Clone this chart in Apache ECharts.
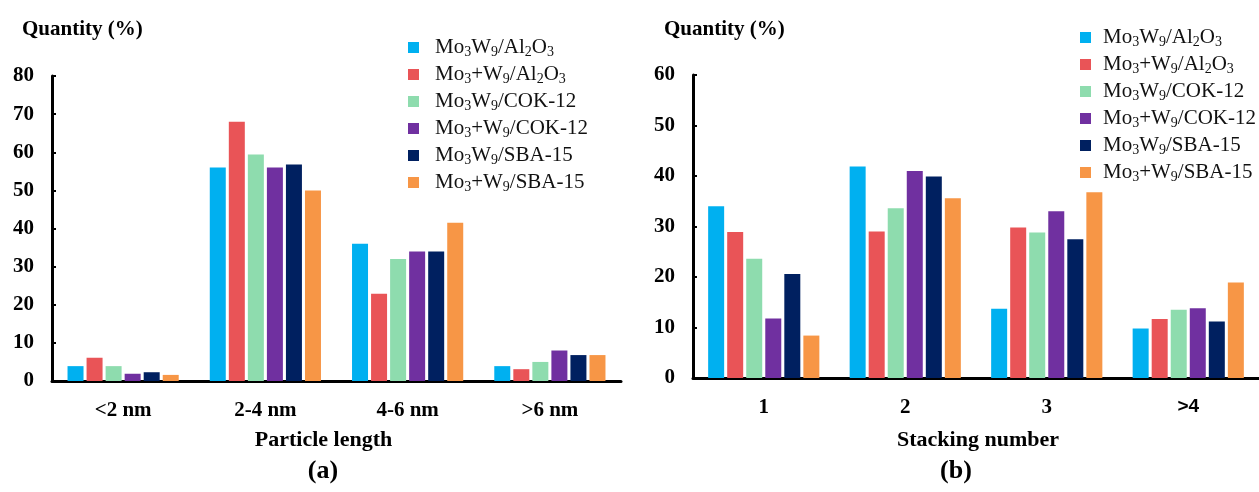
<!DOCTYPE html>
<html>
<head>
<meta charset="utf-8">
<script src="https://cdn.jsdelivr.net/npm/echarts@6/dist/echarts.min.js"></script>
<style>
html,body{margin:0;padding:0;background:#fff;}
#chart{width:1259px;height:492px;}
</style>
</head>
<body>
<div id="chart"></div>
<script>
// ---- data ----
const seriesNames = ['Mo3W9/Al2O3', 'Mo3+W9/Al2O3', 'Mo3W9/COK-12', 'Mo3+W9/COK-12', 'Mo3W9/SBA-15', 'Mo3+W9/SBA-15'];
const legendLabels = [
  'Mo{s|3}W{s|9}/Al{s|2}O{s|3}',
  'Mo{s|3}+W{s|9}/Al{s|2}O{s|3}',
  'Mo{s|3}W{s|9}/COK-12',
  'Mo{s|3}+W{s|9}/COK-12',
  'Mo{s|3}W{s|9}/SBA-15',
  'Mo{s|3}+W{s|9}/SBA-15'
];
const colors = ['#00B0F0', '#E95457', '#8EDCAE', '#7030A0', '#002060', '#F79646'];

const lengthCategories = ['<2 nm', '2-4 nm', '4-6 nm', '>6 nm'];
const lengthMo3W9Al2O3   = [3.9, 56, 36, 3.9];
const lengthMo3pW9Al2O3  = [6.1, 68, 22.9, 3.1];
const lengthMo3W9COK12   = [3.9, 59.4, 32, 5];
const lengthMo3pW9COK12  = [1.9, 56, 34, 8];
const lengthMo3W9SBA15   = [2.3, 56.8, 34, 6.8];
const lengthMo3pW9SBA15  = [1.6, 50, 41.5, 6.8];

const stackCategories = ['1', '2', '3', '>4'];
const stackMo3W9Al2O3   = [34, 41.9, 13.7, 9.8];
const stackMo3pW9Al2O3  = [28.9, 29, 29.8, 11.7];
const stackMo3W9COK12   = [23.6, 33.6, 28.8, 13.5];
const stackMo3pW9COK12  = [11.8, 41, 33, 13.8];
const stackMo3W9SBA15   = [20.6, 39.9, 27.5, 11.2];
const stackMo3pW9SBA15  = [8.4, 35.6, 36.8, 18.9];

const lengthTicks = {min: 0, max: 80, interval: 10};
const stackTicks = {min: 0, max: 60, interval: 10};

// ---- build ----
const lengthData = [lengthMo3W9Al2O3, lengthMo3pW9Al2O3, lengthMo3W9COK12, lengthMo3pW9COK12, lengthMo3W9SBA15, lengthMo3pW9SBA15];
const stackData = [stackMo3W9Al2O3, stackMo3pW9Al2O3, stackMo3W9COK12, stackMo3pW9COK12, stackMo3W9SBA15, stackMo3pW9SBA15];

const SERIF = '"Liberation Serif", "Times New Roman", serif';
const SANS = '"Liberation Sans", Arial, sans-serif';

function xAxis(gridIndex, cats, name, nameGap, namePad) {
  return {
    type: 'category', gridIndex: gridIndex, data: cats,
    axisLine: {lineStyle: {color: '#000', width: 3}},
    axisTick: {show: false},
    axisLabel: {
      color: '#000', fontFamily: SERIF, fontWeight: 'bold', fontSize: 21, margin: 19,
      formatter: v => v === '>4' ? '{s|>4}' : v,
      rich: {s: {fontFamily: SANS, fontWeight: 'bold', fontSize: 19, color: '#000'}}
    },
    name: name, nameLocation: 'middle', nameGap: nameGap,
    nameTextStyle: {color: '#000', fontFamily: SERIF, fontWeight: 'bold', fontSize: 22, padding: namePad}
  };
}
function yAxis(gridIndex, t) {
  return {
    type: 'value', gridIndex: gridIndex, min: t.min, max: t.max, interval: t.interval,
    splitLine: {show: false},
    axisLine: {show: true, lineStyle: {color: '#000', width: 3}},
    axisTick: {show: true, inside: true, length: 4, lineStyle: {color: '#000', width: 2}},
    axisLabel: {color: '#000', fontFamily: SERIF, fontWeight: 'bold', fontSize: 21, margin: 18}
  };
}
function legend(left, top, textPad) {
  return {
    data: seriesNames, orient: 'vertical', left: left, top: top, padding: 0,
    itemWidth: 11, itemHeight: 11, itemGap: 5, icon: 'rect',
    selectedMode: false,
    formatter: name => legendLabels[seriesNames.indexOf(name)],
    textStyle: {
      color: '#111', fontFamily: SERIF, fontSize: 21, lineHeight: 20, padding: [0, 0, 0, textPad],
      rich: {s: {fontFamily: SERIF, fontSize: 14, color: '#111', padding: [9, 0, 0, 0]}}
    }
  };
}

const series = [];
seriesNames.forEach((n, i) => {
  series.push({name: n, type: 'bar', xAxisIndex: 0, yAxisIndex: 0, data: lengthData[i],
    barWidth: 16, barGap: '19%', itemStyle: {color: colors[i]}});
});
seriesNames.forEach((n, i) => {
  series.push({name: n, type: 'bar', xAxisIndex: 1, yAxisIndex: 1, data: stackData[i],
    barWidth: 16, barGap: '19%', itemStyle: {color: colors[i]}});
});

const chart = echarts.init(document.getElementById('chart'), null, {renderer: 'canvas'});
chart.setOption({
  backgroundColor: '#fff',
  animation: false,
  color: colors,
  title: [
    {text: 'Quantity (%)', left: 22, top: 19, padding: 0, textStyle: {fontFamily: SERIF, fontWeight: 'bold', fontSize: 21, color: '#000'}},
    {text: 'Quantity (%)', left: 664, top: 19, padding: 0, textStyle: {fontFamily: SERIF, fontWeight: 'bold', fontSize: 21, color: '#000'}},
    {text: '(a)', left: 323, textAlign: 'center', top: 458, padding: 0, textStyle: {fontFamily: SERIF, fontWeight: 'bold', fontSize: 26, color: '#000'}},
    {text: '(b)', left: 956, textAlign: 'center', top: 458, padding: 0, textStyle: {fontFamily: SERIF, fontWeight: 'bold', fontSize: 26, color: '#000'}}
  ],
  legend: [legend(408, 37, 11), legend(1080, 27, 7)],
  grid: [
    {left: 52, right: 638, top: 76, bottom: 111, containLabel: false},
    {left: 693, right: -4, top: 75, bottom: 114, containLabel: false}
  ],
  xAxis: [
    xAxis(0, lengthCategories, 'Particle length', 48, [0, 26, 0, 0]),
    xAxis(1, stackCategories, 'Stacking number', 51, [0, 0, 0, 4])
  ],
  yAxis: [yAxis(0, lengthTicks), yAxis(1, stackTicks)],
  series: series
});
</script>
</body>
</html>
